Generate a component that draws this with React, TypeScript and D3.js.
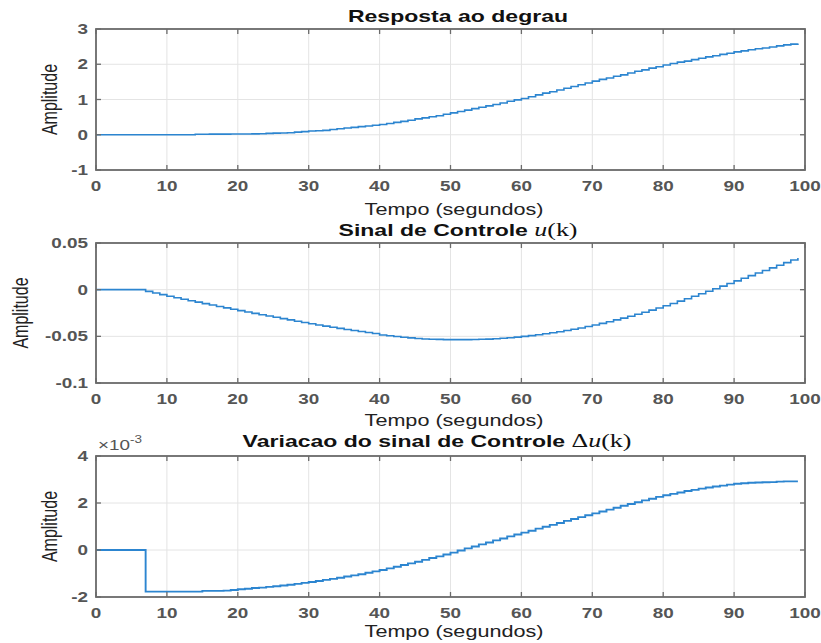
import React from "react";
import * as d3 from "d3";

// Step response y(k), sampled once per second (k = 0..99)
const stepResponse = [
  0, 0, 0, 0, 0, 0, 0, 0, 0, 0,
  0, 0, 0, 0, 0.015, 0.016, 0.017, 0.018, 0.019, 0.02,
  0.021, 0.023, 0.025, 0.027, 0.04, 0.045, 0.05, 0.055, 0.075, 0.09,
  0.105, 0.115, 0.125, 0.15, 0.17, 0.19, 0.21, 0.23, 0.25, 0.27,
  0.29, 0.32, 0.35, 0.38, 0.41, 0.45, 0.48, 0.51, 0.54, 0.58,
  0.62, 0.66, 0.7, 0.74, 0.78, 0.82, 0.86, 0.9, 0.95, 0.99,
  1.03, 1.08, 1.13, 1.18, 1.22, 1.27, 1.32, 1.37, 1.42, 1.47,
  1.52, 1.57, 1.61, 1.66, 1.7, 1.75, 1.8, 1.84, 1.89, 1.93,
  1.98, 2.02, 2.06, 2.09, 2.13, 2.17, 2.21, 2.24, 2.28, 2.31,
  2.35, 2.38, 2.41, 2.44, 2.46, 2.49, 2.52, 2.55, 2.57, 2.59,
];

// Control signal u(k)
const controlSignal = [
  0, 0, 0, 0, 0, 0, 0, -0.0018, -0.0036, -0.0053,
  -0.007, -0.0086, -0.0102, -0.0118, -0.0134, -0.015, -0.0165, -0.018, -0.0195, -0.021,
  -0.0225, -0.024, -0.0254, -0.0268, -0.0282, -0.0296, -0.031, -0.0324, -0.0338, -0.0352,
  -0.0365, -0.0378, -0.0391, -0.0403, -0.0415, -0.0427, -0.0438, -0.0449, -0.0459, -0.0469,
  -0.0485, -0.0494, -0.0502, -0.051, -0.0517, -0.0523, -0.0528, -0.0531, -0.0533, -0.0535,
  -0.0535, -0.0535, -0.0535, -0.0534, -0.0532, -0.053, -0.0526, -0.0521, -0.0515, -0.0508,
  -0.05, -0.0492, -0.0483, -0.0473, -0.0462, -0.0451, -0.0438, -0.0424, -0.041, -0.0394,
  -0.0378, -0.0361, -0.0343, -0.0324, -0.0305, -0.0285, -0.0264, -0.0242, -0.0219, -0.0196,
  -0.0172, -0.0148, -0.0123, -0.0097, -0.0071, -0.0044, -0.0017, 0.001, 0.0038, 0.0066,
  0.0094, 0.0122, 0.015, 0.0178, 0.0206, 0.0234, 0.0262, 0.029, 0.0318, 0.034,
];

// Control increment Δu(k), in units of 1e-3
const controlIncrement = [
  0, 0, 0, 0, 0, 0, 0, -1.77, -1.77, -1.77,
  -1.77, -1.77, -1.77, -1.77, -1.77, -1.74, -1.74, -1.74, -1.73, -1.7,
  -1.67, -1.65, -1.62, -1.6, -1.57, -1.54, -1.51, -1.48, -1.44, -1.4,
  -1.36, -1.32, -1.27, -1.23, -1.18, -1.13, -1.08, -1.03, -0.97, -0.91,
  -0.85, -0.78, -0.71, -0.64, -0.57, -0.5, -0.42, -0.34, -0.27, -0.19,
  -0.11, -0.02, 0.07, 0.15, 0.24, 0.32, 0.41, 0.49, 0.58, 0.66,
  0.74, 0.82, 0.91, 0.99, 1.07, 1.15, 1.24, 1.32, 1.4, 1.48,
  1.56, 1.64, 1.72, 1.8, 1.88, 1.96, 2.03, 2.11, 2.18, 2.26,
  2.33, 2.39, 2.45, 2.51, 2.56, 2.61, 2.66, 2.7, 2.74, 2.78,
  2.82, 2.84, 2.86, 2.87, 2.88, 2.89, 2.91, 2.92, 2.92, 2.92,
];

const sampleTime = 1;
const timeTicks = [0, 10, 20, 30, 40, 50, 60, 70, 80, 90, 100];
const responseTicks = [-1, 0, 1, 2, 3];
const controlTicks = [-0.1, -0.05, 0, 0.05];
const incrementTicks = [-2, 0, 2, 4];
const titles = ["Resposta ao degrau", "Sinal de Controle ", "Variacao do sinal de Controle "];
const xLabel = "Tempo (segundos)";
const yLabel = "Amplitude";

const W = 821;
const H = 643;
const LEFT = 96;
const RIGHT = 805;
const SANS = "'Liberation Sans', Arial, Helvetica, sans-serif";
const SERIF = "'Liberation Serif', 'DejaVu Serif', 'Times New Roman', serif";
const LINE = "#2c85d0";
const BOX = "#6b6b6b";
const GRID = "#e4e4e4";
const TICKTXT = "#555555";
const STRETCH = 1.35;

type Panel = {
  values: number[];
  yTicks: number[];
  yDomain: [number, number];
  top: number;
  bottom: number;
  titleMain: string;
  titleMath: null | "u" | "du";
  titleCx: number;
  titleY: number;
  yLabelX: number;
  xLabelY: number;
  exponent?: boolean;
  lineWidth: number;
};

const panels: Panel[] = [
  {
    values: stepResponse, yTicks: responseTicks, yDomain: [-1, 3],
    top: 29, bottom: 170, titleMain: titles[0], titleMath: null,
    titleCx: 458, titleY: 22, yLabelX: 57, xLabelY: 215, lineWidth: 1.6,
  },
  {
    values: controlSignal, yTicks: controlTicks, yDomain: [-0.1, 0.05],
    top: 243, bottom: 383, titleMain: titles[1], titleMath: "u",
    titleCx: 458, titleY: 236, yLabelX: 28, xLabelY: 426, lineWidth: 1.6,
  },
  {
    values: controlIncrement, yTicks: incrementTicks, yDomain: [-2, 4],
    top: 456, bottom: 597, titleMain: titles[2], titleMath: "du",
    titleCx: 437, titleY: 447, yLabelX: 57, xLabelY: 637, exponent: true, lineWidth: 1.9,
  },
];

const x = d3.scaleLinear().domain([0, 100]).range([LEFT, RIGHT]);

function fmt(v: number) {
  if (v === 0) return "0";
  return String(v);
}

function PanelView({ p }: { p: Panel }) {
  const y = d3.scaleLinear().domain(p.yDomain).range([p.bottom, p.top]);
  const line = d3
    .line<number>()
    .x((_, i) => x(i * sampleTime))
    .y((v) => y(v))
    .curve(d3.curveStepAfter);
  const tickLen = 5;
  return (
    <g>
      {/* grid */}
      {timeTicks.map((t) => (
        <line key={"gx" + t} x1={x(t)} x2={x(t)} y1={p.top} y2={p.bottom} stroke={GRID} strokeWidth={1} />
      ))}
      {p.yTicks.map((t) => (
        <line key={"gy" + t} x1={LEFT} x2={RIGHT} y1={y(t)} y2={y(t)} stroke={GRID} strokeWidth={1} />
      ))}
      {/* data */}
      <path d={line(p.values) ?? ""} fill="none" stroke={LINE} strokeWidth={p.lineWidth} strokeLinejoin="miter" />
      {/* box */}
      <rect x={LEFT} y={p.top} width={RIGHT - LEFT} height={p.bottom - p.top} fill="none" stroke={BOX} strokeWidth={1.8} />
      {/* inward ticks */}
      {timeTicks.map((t) => (
        <g key={"tx" + t}>
          <line x1={x(t)} x2={x(t)} y1={p.bottom} y2={p.bottom - tickLen} stroke={BOX} strokeWidth={1.3} />
          <line x1={x(t)} x2={x(t)} y1={p.top} y2={p.top + tickLen} stroke={BOX} strokeWidth={1.3} />
        </g>
      ))}
      {p.yTicks.map((t) => (
        <g key={"ty" + t}>
          <line x1={LEFT} x2={LEFT + tickLen} y1={y(t)} y2={y(t)} stroke={BOX} strokeWidth={1.3} />
          <line x1={RIGHT} x2={RIGHT - tickLen} y1={y(t)} y2={y(t)} stroke={BOX} strokeWidth={1.3} />
        </g>
      ))}
      {/* tick labels */}
      {timeTicks.map((t) => (
        <text
          key={"lx" + t}
          transform={`translate(${x(t)},${p.bottom + 21}) scale(${STRETCH},1)`}
          textAnchor="middle"
          fontFamily={SANS}
          fontSize={14}
          fontWeight="bold"
          fill={TICKTXT}
        >
          {fmt(t)}
        </text>
      ))}
      {p.yTicks.map((t) => (
        <text
          key={"ly" + t}
          transform={`translate(88,${y(t) + 5}) scale(${STRETCH},1)`}
          textAnchor="end"
          fontFamily={SANS}
          fontSize={14}
          fontWeight="bold"
          fill={TICKTXT}
        >
          {fmt(t)}
        </text>
      ))}
      {p.exponent && (
        <text transform={`translate(98,${p.top - 6}) scale(${STRETCH},1)`} fontFamily={SANS} fontSize={14} fill={TICKTXT}>
          ×10
          <tspan fontSize={10} dy={-7}>-3</tspan>
        </text>
      )}
      {/* title */}
      <text
        transform={`translate(${p.titleCx},${p.titleY}) scale(1.44,1)`}
        textAnchor="middle"
        fontFamily={SANS}
        fontSize={16}
        fontWeight="bold"
        fill="#111"
      >
        {p.titleMain}
        {p.titleMath === "u" && (
          <>
            <tspan fontFamily={SERIF} fontWeight="normal" fontStyle="italic" fontSize={18}>u</tspan>
            <tspan fontFamily={SERIF} fontWeight="normal" fontSize={18}>(k)</tspan>
          </>
        )}
        {p.titleMath === "du" && (
          <>
            <tspan fontFamily={SERIF} fontWeight="normal" fontSize={18}>Δ</tspan>
            <tspan fontFamily={SERIF} fontWeight="normal" fontStyle="italic" fontSize={18}>u</tspan>
            <tspan fontFamily={SERIF} fontWeight="normal" fontSize={18}>(k)</tspan>
          </>
        )}
      </text>
      {/* axis labels */}
      <text
        transform={`translate(454,${p.xLabelY}) scale(${STRETCH},1)`}
        textAnchor="middle"
        fontFamily={SANS}
        fontSize={16}
        fill="#222"
      >
        {xLabel}
      </text>
      <text
        transform={`translate(${p.yLabelX},${(p.top + p.bottom) / 2}) rotate(-90) scale(1,${STRETCH})`}
        textAnchor="middle"
        fontFamily={SANS}
        fontSize={16}
        fill="#222"
      >
        {yLabel}
      </text>
    </g>
  );
}

export default function App() {
  return (
    <svg
      width={W}
      height={H}
      viewBox={`0 0 ${W} ${H}`}
      style={{ position: "absolute", left: 0, top: 0, background: "#fff" }}
    >
      <rect width={W} height={H} fill="#fff" />
      {panels.map((p, i) => (
        <PanelView key={i} p={p} />
      ))}
    </svg>
  );
}
